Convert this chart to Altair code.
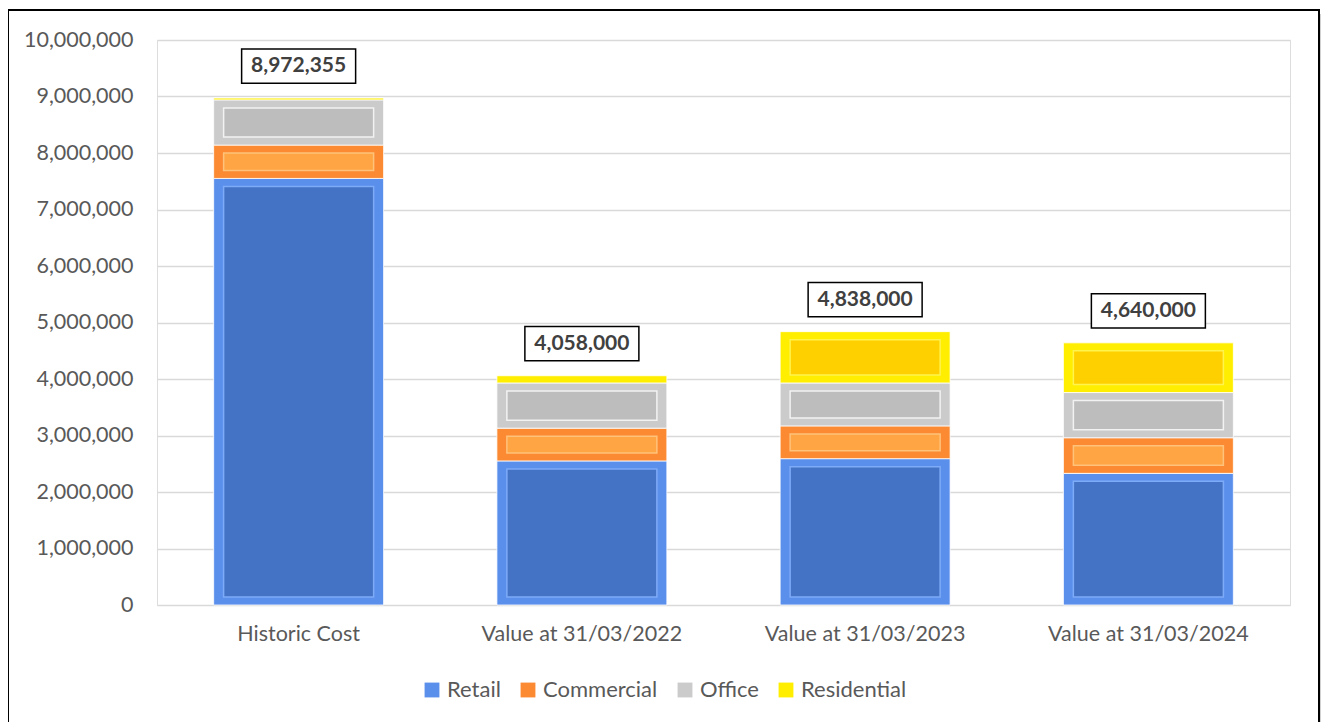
import altair as alt
import pandas as pd

categories = ["Historic Cost", "Value at 31/03/2022", "Value at 31/03/2023", "Value at 31/03/2024"]
series = ["Retail", "Commercial", "Office", "Residential"]
retail = [7550000, 2550000, 2590000, 2330000]
commercial = [590000, 580000, 580000, 630000]
office = [800000, 800000, 760000, 800000]
residential = [32355, 128000, 908000, 880000]
totals = [8972355, 4058000, 4838000, 4640000]
y_ticks = [0, 1000000, 2000000, 3000000, 4000000, 5000000, 6000000, 7000000, 8000000, 9000000, 10000000]

edge_colors = ["#5B8FEC", "#FB8A32", "#CBCBCB", "#FFEE00"]
center_colors = ["#4472C4", "#FFA544", "#BDBDBD", "#FFD000"]
rim_colors = ["#7EABF7", "#FFC27A", "#F2F2F2", "#FFF34D"]

rows = []
vals = {"Retail": retail, "Commercial": commercial, "Office": office, "Residential": residential}
for i, c in enumerate(categories):
    acc = 0
    for s in series:
        v = vals[s][i]
        rows.append({"category": c, "series": s, "value": v, "start": acc, "end": acc + v})
        acc += v
df = pd.DataFrame(rows)
tot_df = pd.DataFrame({"category": categories, "total": totals})

FONT = "Lato"
x_axis = alt.Axis(title=None, labelAngle=0, labelPadding=18, ticks=False, domain=False,
                  labelFontSize=21.5, labelColor="#595959", labelFont=FONT, labelLimit=0)
y_axis = alt.Axis(title=None, values=y_ticks, format=",", labelExpr="format(datum.value, ',')",
                  ticks=False, domain=False, labelPadding=24, labelFontSize=21.5,
                  labelColor="#595959", labelFont=FONT, gridColor="#D9D9D9", gridWidth=1.5)
x_scale = alt.Scale(paddingInner=0.4, paddingOuter=0.2)
y_scale = alt.Scale(domain=[0, 10000000])


def X():
    return alt.X("category:N", sort=categories, scale=x_scale, axis=x_axis)


base = alt.Chart(df)
outer = base.mark_bar(stroke="white", strokeWidth=0.8).encode(
    x=X(), y=alt.Y("end:Q", scale=y_scale, axis=y_axis), y2="start:Q",
    color=alt.Color("series:N", sort=series,
                    scale=alt.Scale(domain=series, range=edge_colors),
                    legend=alt.Legend(title=None, orient="none", direction="horizontal",
                                      legendX=264, legendY=639, symbolType="square",
                                      symbolSize=220, symbolStrokeWidth=0,
                                      labelFontSize=22, labelColor="#595959", labelFont=FONT,
                                      columnPadding=16, labelOffset=4)),
)
inner = base.transform_filter("datum.value >= 300000").mark_bar(
    width=150, yOffset=8, y2Offset=-8, strokeWidth=1.5
).encode(
    x=X(),
    y=alt.Y("end:Q", scale=y_scale, axis=y_axis), y2="start:Q",
    fill=alt.Fill("series:N", scale=alt.Scale(domain=series, range=center_colors), legend=None),
    stroke=alt.Stroke("series:N", scale=alt.Scale(domain=series, range=rim_colors), legend=None),
)

tb = alt.Chart(tot_df)
boxes = tb.mark_point(
    shape="M-1,-0.3 L1,-0.3 L1,0.3 L-1,0.3 Z", size=12996, filled=True, fill="white",
    stroke="black", strokeWidth=1.5, opacity=1, yOffset=-32
).encode(x=X(), y=alt.Y("total:Q", scale=y_scale, axis=y_axis))
labels = tb.mark_text(dy=-32, baseline="middle", fontSize=21, fontWeight="bold",
                      color="#404040", font=FONT).encode(
    x=X(), y=alt.Y("total:Q", scale=y_scale, axis=y_axis),
    text=alt.Text("total:Q", format=","))

one = alt.Chart(pd.DataFrame({"a": [0]}))
shadow = one.mark_rect(fill="#000000", opacity=0.18).encode(
    x=alt.value(1162), x2=alt.value(1167), y=alt.value(-26), y2=alt.value(700))
border = one.mark_rect(fillOpacity=0, stroke="black", strokeWidth=2).encode(
    x=alt.value(-149), x2=alt.value(1162), y=alt.value(-30), y2=alt.value(700))

chart = alt.layer(shadow, border, outer, inner, boxes, labels).resolve_scale(
    fill="independent", stroke="independent"
).properties(
    width=1133, height=565,
    autosize=alt.AutoSizeParams(type="none"),
    padding={"left": 149, "top": 32, "right": 31, "bottom": 117},
).configure_view(stroke=None).configure(font=FONT)

chart.save("out.html", embed_options={"renderer": "svg", "actions": False})
